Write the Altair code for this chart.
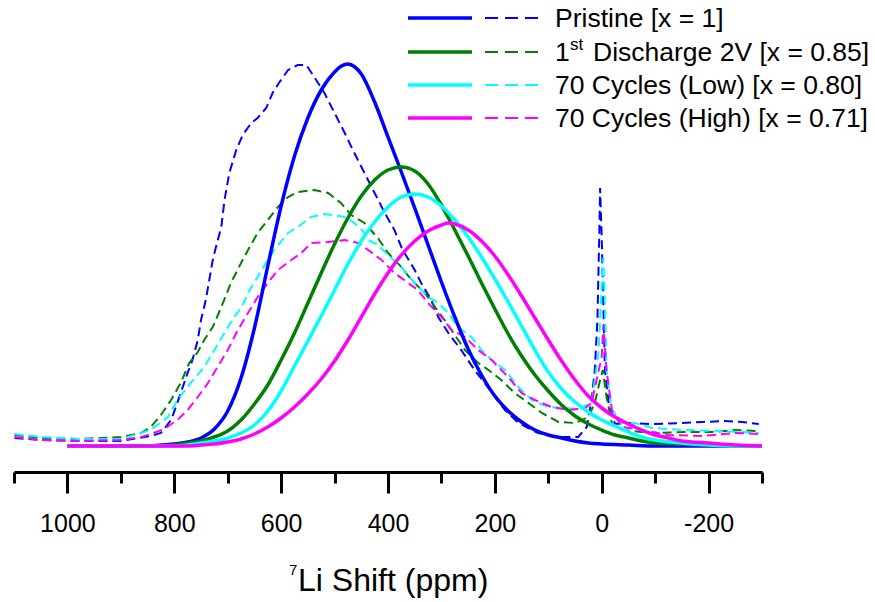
import altair as alt
import pandas as pd

series_names = ["Pristine [x = 1]", "1st Discharge 2V [x = 0.85]",
                "70 Cycles (Low) [x = 0.80]", "70 Cycles (High) [x = 0.71]"]
colors = ["#0000FF", "#008000", "#00FFFF", "#FF00FF"]

# ---- fitted curves (solid) : 7Li shift (ppm) / intensity (a.u.)
pristine_fit_ppm = [1000, 900, 850, 825, 800, 775, 750, 725, 700, 675, 650, 625, 600, 575, 550,
                    525, 500, 487, 475, 462, 450, 425, 400, 375, 350, 325, 300, 275, 250, 225,
                    200, 175, 150, 125, 100, 75, 50, 25, 0, -50, -100, -300]
pristine_fit_int = [0, 0, 0, 1, 2, 4, 8, 17, 35, 68, 118, 180, 240, 290, 328,
                    356, 374, 380, 382, 379, 372, 344, 309, 274, 238, 201, 164, 129, 97, 71,
                    50, 35, 24, 16, 11, 8, 5, 3, 2, 1, 0, 0]

dis_fit_ppm = [1000, 850, 800, 775, 750, 725, 700, 675, 650, 625, 600, 575, 550, 525, 500,
               475, 450, 425, 400, 375, 350, 325, 300, 275, 250, 225, 200, 175, 150, 125,
               100, 75, 50, 25, 0, -25, -50, -75, -100, -150, -200, -250, -300]
dis_fit_int = [0, 0, 1, 3, 5, 9, 15, 26, 42, 61, 86, 113, 143, 173, 202,
               228, 250, 266, 276, 279, 275, 262, 241, 216, 190, 163, 137, 112, 90, 71,
               55, 41, 30, 22, 16, 11, 8, 5, 3, 2, 1, 0, 0]

low_fit_ppm = [1000, 800, 775, 750, 725, 700, 675, 650, 625, 600, 575, 550, 525, 500, 475,
               450, 425, 400, 375, 350, 325, 300, 275, 250, 225, 200, 175, 150, 125, 100,
               75, 50, 25, 0, -25, -50, -75, -100, -150, -200, -250, -300]
low_fit_int = [0, 0, 1, 3, 5, 8, 13, 21, 35, 55, 80, 105, 130, 156, 182,
               205, 224, 239, 249, 252, 249, 240, 226, 209, 189, 167, 144, 120, 96, 74,
               57, 44, 34, 26, 20, 14, 9, 6, 3, 1, 0, 0]

high_fit_ppm = [1000, 800, 775, 750, 725, 700, 675, 650, 625, 600, 575, 550, 525, 500, 475,
                450, 425, 400, 375, 350, 325, 300, 287, 275, 250, 225, 200, 175, 150, 125,
                100, 75, 50, 25, 0, -25, -50, -75, -100, -125, -150, -200, -250, -300]
high_fit_int = [0, 0, 0, 1, 2, 4, 7, 12, 19, 28, 39, 52, 67, 85, 106,
                129, 152, 173, 191, 205, 215, 221, 223, 222, 216, 205, 190, 171, 150, 128,
                106, 85, 66, 50, 38, 29, 22, 16, 11, 8, 5, 3, 1, 0]

# ---- experimental spectra (dashed)
pristine_exp_ppm = [1099, 1050, 975, 900, 844, 825, 806, 797, 788, 775, 766, 756, 750, 741, 728,
                    722, 712, 706, 697, 684, 672, 656, 644, 628, 616, 603, 587, 569, 553, 538,
                    519, 500, 481, 463, 444, 425, 406, 388, 375, 369, 350, 338, 319, 306, 287,
                    263, 238, 219, 200, 181, 156, 119, 81, 44, 28, 19, 13, 8, 6, 4,
                    3, 0, -3, -6, -13, -25, -50, -94, -150, -188, -231, -263, -294]
pristine_exp_int = [8, 6, 5, 5, 10, 13, 26, 39, 53, 73, 86, 106, 126, 146, 186,
                    199, 219, 246, 273, 296, 311, 323, 328, 338, 353, 364, 376, 381, 381, 369,
                    353, 333, 313, 293, 273, 253, 233, 216, 199, 193, 176, 163, 146, 129, 113,
                    96, 76, 63, 49, 36, 23, 13, 9, 9, 19, 46, 76, 126, 176, 226,
                    258, 209, 143, 76, 43, 22, 23, 22, 23, 24, 25, 24, 22]

dis_exp_ppm = [1099, 1050, 975, 900, 862, 844, 825, 806, 788, 772, 756, 744, 728, 712, 694,
               675, 662, 644, 625, 606, 587, 569, 538, 512, 488, 469, 444, 419, 400, 375,
               356, 331, 312, 294, 256, 231, 212, 188, 163, 137, 112, 81, 50, 25, 13,
               3, -2, -9, -19, -38, -94, -156, -206, -250, -288]
dis_exp_int = [11, 8, 7, 9, 13, 19, 31, 46, 63, 83, 94, 106, 119, 139, 163,
               183, 196, 213, 226, 239, 249, 254, 256, 253, 243, 231, 223, 208, 193, 179,
               166, 153, 139, 126, 96, 83, 76, 66, 53, 43, 33, 24, 23, 29, 43,
               66, 76, 49, 23, 16, 13, 14, 14, 16, 15]

low_exp_ppm = [1099, 1050, 975, 900, 844, 812, 794, 769, 744, 725, 706, 688, 675, 659, 644,
               625, 613, 587, 569, 544, 519, 481, 463, 447, 437, 419, 400, 375, 350, 325,
               306, 287, 269, 244, 225, 206, 181, 156, 131, 100, 75, 44, 19, 6, 0,
               -3, -6, -9, -19, -31, -38, -62, -94, -156, -219, -263, -294]
low_exp_int = [12, 9, 7, 7, 16, 29, 46, 63, 79, 96, 113, 129, 138, 156, 169,
               186, 196, 213, 219, 229, 232, 229, 223, 215, 206, 201, 191, 179, 163, 149,
               143, 133, 119, 109, 96, 86, 76, 59, 46, 39, 38, 37, 43, 93, 159,
               188, 143, 76, 36, 29, 23, 23, 18, 16, 15, 14, 13]

high_exp_ppm = [1099, 1050, 975, 900, 862, 844, 819, 794, 775, 756, 737, 719, 700, 681, 662,
                644, 625, 606, 581, 562, 544, 512, 481, 456, 437, 412, 388, 362, 344, 325,
                300, 281, 256, 231, 206, 175, 150, 125, 94, 62, 31, 19, 0, -3, -9,
                -19, -38, -75, -125, -188, -250, -294]
high_exp_int = [9, 6, 5, 6, 9, 12, 17, 26, 36, 49, 63, 79, 96, 116, 133,
                149, 163, 176, 186, 193, 203, 204, 206, 203, 196, 186, 173, 163, 156, 143,
                129, 116, 109, 96, 86, 69, 53, 46, 39, 36, 38, 43, 89, 121, 76,
                36, 19, 16, 11, 10, 13, 12]

tick_values = list(range(1100, -301, -100))

rows = []


def add(name, kind, ppm, inten):
    assert len(ppm) == len(inten), name + kind
    for i, (p, v) in enumerate(zip(ppm, inten)):
        rows.append({"series": name, "kind": kind, "ppm": p, "intensity": v, "idx": i})


fits = [(pristine_fit_ppm, pristine_fit_int), (dis_fit_ppm, dis_fit_int),
        (low_fit_ppm, low_fit_int), (high_fit_ppm, high_fit_int)]
exps = [(pristine_exp_ppm, pristine_exp_int), (dis_exp_ppm, dis_exp_int),
        (low_exp_ppm, low_exp_int), (high_exp_ppm, high_exp_int)]
for name, (p, v) in zip(series_names, fits):
    add(name, "fit", p, v)
for name, (p, v) in zip(series_names, exps):
    add(name, "exp", p, v)

df = pd.DataFrame(rows)

FONT = "Liberation Sans"
x_scale = alt.Scale(domain=[1100, -300], nice=False, zero=False)
y_scale = alt.Scale(domain=[-26, 446], nice=False, zero=False)
color_scale = alt.Scale(domain=series_names, range=colors)

x_axis = alt.Axis(
    values=tick_values, title=None, grid=False,
    domainColor="black", domainWidth=3,
    tickColor="black", tickWidth=3,
    tickSize={"condition": {"test": "datum.value % 200 === 0", "value": 21}, "value": 11},
    labelExpr="datum.value % 200 === 0 ? '' + datum.value : ''",
    labelFont=FONT, labelFontSize=25, labelColor="black", labelPadding=18,
    labelFlush=False, labelOverlap=False,
)

base = alt.Chart(df).encode(
    x=alt.X("ppm:Q", scale=x_scale, axis=x_axis),
    y=alt.Y("intensity:Q", scale=y_scale, axis=None),
    color=alt.Color("series:N", scale=color_scale, legend=None),
    detail="series:N",
    order=alt.Order("idx:Q"),
)

dashed = base.transform_filter(alt.datum.kind == "exp").mark_line(
    strokeWidth=2, strokeDash=[9, 5], interpolate="linear")
solid = base.transform_filter(alt.datum.kind == "fit").mark_line(
    strokeWidth=3.5, interpolate="monotone")

layers = [dashed, solid]

OX = 14  # plot-area left offset in the page
one = pd.DataFrame({"a": [0]})
legend_y = [18, 52, 85, 118]
for i, (c, yy) in enumerate(zip(colors, legend_y)):
    layers.append(alt.Chart(one).mark_rule(color=c, strokeWidth=3.5).encode(
        x=alt.value(408 - OX), x2=alt.value(472 - OX), y=alt.value(yy)))
    layers.append(alt.Chart(one).mark_rule(color=c, strokeWidth=2, strokeDash=[13, 7]).encode(
        x=alt.value(485 - OX), x2=alt.value(540 - OX), y=alt.value(yy)))

txt = dict(align="left", baseline="middle", font=FONT, fontSize=26.5, color="black")
layers.append(alt.Chart(one).mark_text(text="Pristine [x = 1]", **txt).encode(
    x=alt.value(555 - OX), y=alt.value(legend_y[0] + 1)))
layers.append(alt.Chart(one).mark_text(text="1", **txt).encode(
    x=alt.value(555 - OX), y=alt.value(legend_y[1] + 1)))
layers.append(alt.Chart(one).mark_text(text="st", align="left", baseline="middle", font=FONT,
                                       fontSize=17, color="black").encode(
    x=alt.value(570 - OX), y=alt.value(legend_y[1] - 7)))
layers.append(alt.Chart(one).mark_text(text="Discharge 2V [x = 0.85]", **txt).encode(
    x=alt.value(593 - OX), y=alt.value(legend_y[1] + 1)))
layers.append(alt.Chart(one).mark_text(text="70 Cycles (Low) [x = 0.80]", **txt).encode(
    x=alt.value(555 - OX), y=alt.value(legend_y[2] + 1)))
layers.append(alt.Chart(one).mark_text(text="70 Cycles (High) [x = 0.71]", **txt).encode(
    x=alt.value(555 - OX), y=alt.value(legend_y[3] + 1)))

# axis title with superscript 7
layers.append(alt.Chart(one).mark_text(text="7", align="left", baseline="alphabetic", font=FONT,
                                       fontSize=15, color="black").encode(
    x=alt.value(289 - OX), y=alt.value(575)))
layers.append(alt.Chart(one).mark_text(text="Li Shift (ppm)", align="left", baseline="alphabetic",
                                       font=FONT, fontSize=32, color="black").encode(
    x=alt.value(298 - OX), y=alt.value(591)))

chart = alt.layer(*layers).properties(
    width=748, height=472,
    autosize=alt.AutoSizeParams(type="none"),
    padding={"left": OX, "top": 0, "right": 875 - 748 - OX, "bottom": 602 - 472},
    background="white",
).configure_view(stroke=None)

chart.save("out.html", embed_options={"renderer": "svg", "actions": False})
